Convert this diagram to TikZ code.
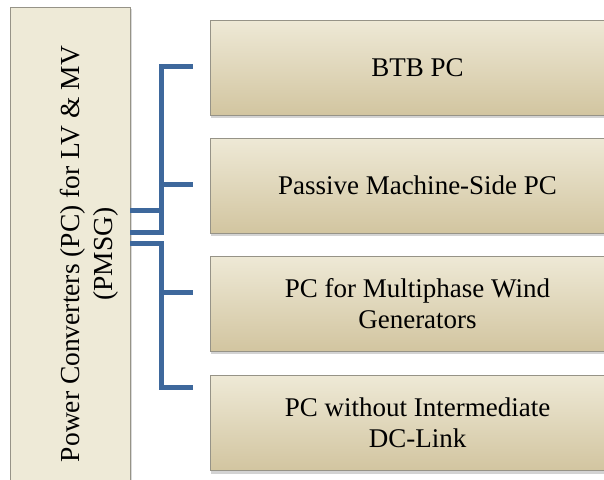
\documentclass[tikz,border=0pt]{standalone}
\usepackage{fontspec}
\setmainfont{Liberation Serif}
\usepackage{xcolor}
\usetikzlibrary{shadows}

\definecolor{boxtop}{RGB}{238,233,214}
\definecolor{boxbot}{RGB}{210,197,160}
\definecolor{rootfill}{RGB}{238,234,215}
\definecolor{boxline}{RGB}{150,147,135}
\definecolor{linkblue}{RGB}{62,104,156}

\tikzset{
  pcbox/.style={draw=boxline, line width=1pt, top color=boxtop, bottom color=boxbot,
    minimum width=415pt, minimum height=95pt, outer sep=0pt, align=center,
    font=\fontsize{27}{31}\selectfont,
    drop shadow={shadow xshift=1pt, shadow yshift=-3pt, opacity=0.35}},
  rootbox/.style={draw=boxline, line width=1pt, fill=rootfill,
    minimum width=120pt, minimum height=488pt, outer sep=0pt,
    drop shadow={shadow xshift=2pt, shadow yshift=-2pt, opacity=0.3}},
  link/.style={draw=linkblue, line width=5pt}
}

\begin{document}
\begin{tikzpicture}[x=1pt,y=-1pt]
\useasboundingbox (0,0) rectangle (604,479);
\clip (0,0) rectangle (604,479);
\node[rootbox] (src) at (70,251) {};
\node[rotate=90, align=center, font=\fontsize{27.5}{33}\selectfont] (srcText) at (89,254)
  {Power Converters (PC) for LV \& MV\\(PMSG)};
\node[pcbox] (btb) at (417.5,67.5) {BTB PC};
\node[pcbox] (passive) at (417.5,185.5) {Passive Machine-Side PC};
\node[pcbox] (multi) at (417.5,303.5) {PC for Multiphase Wind\\Generators};
\node[pcbox] (nodc) at (417.5,423) {PC without Intermediate\\DC-Link};
\coordinate (bus) at (161,0);
\coordinate (tipA) at (193,66);
\coordinate (tipB) at (193,184);
\coordinate (tipC) at (193,292);
\coordinate (tipD) at (193,387);
\draw[link] (src.east |- 0,232) -| (bus |- tipA) -- (tipA);
\draw[link] (src.east |- 0,210) -| (bus |- tipB) -- (tipB);
\draw[link] (src.east |- 0,243) -| (bus |- tipC) -- (tipC);
\draw[link] (src.east |- 0,243) -| (bus |- tipD) -- (tipD);
\end{tikzpicture}
\end{document}
